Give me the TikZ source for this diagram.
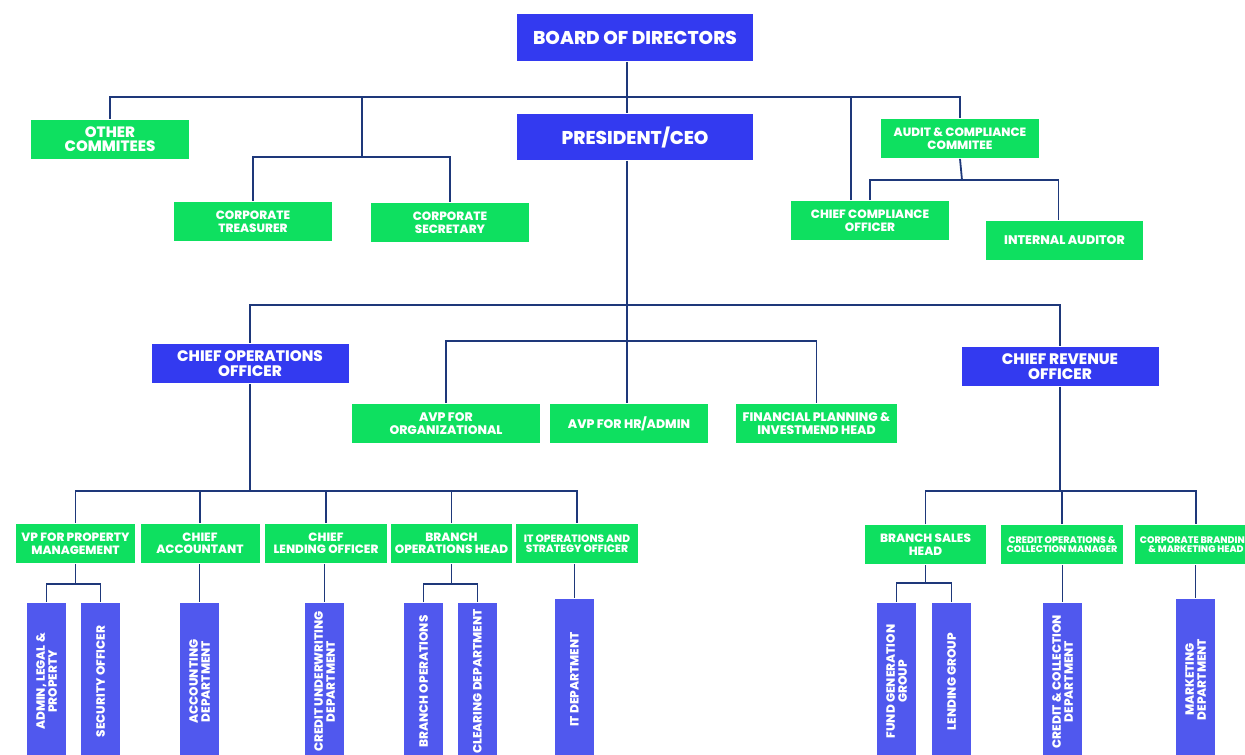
\documentclass[tikz,border=0pt]{standalone}
\usepackage{fontspec}
\setmainfont{Poppins}[BoldFont={Poppins ExtraBold}]
\usetikzlibrary{positioning}
\definecolor{chiefblue}{RGB}{51,58,240}
\definecolor{deptblue}{RGB}{80,88,238}
\definecolor{unitgreen}{RGB}{14,224,96}
\definecolor{linenavy}{RGB}{30,56,122}
\newcommand{\fsz}[2]{\fontsize{#1}{#2}\selectfont}
\tikzstyle{unit}=[fill=unitgreen,text=white,align=center,inner sep=0pt,minimum height=39,font=\bfseries\fsz{12}{12.5}]
\tikzstyle{chief}=[unit,fill=chiefblue]
\tikzstyle{dept}=[fill=deptblue,text=white,align=center,inner sep=0pt,rotate=90,minimum width=157,minimum height=39,font=\bfseries\fsz{12}{12}]
\newcommand{\newUnit}[4]{\node[#3](#1) at (#4){#2};}
\newcommand{\newLink}[2]{\draw (#1) -- (#2);}

\begin{document}
\begin{tikzpicture}[x=1pt,y=-1pt,
  line width=1.8pt,color=linenavy
  ]
  \useasboundingbox (0,0) rectangle (1245,755);
  % top of the chart
  \newUnit{board}{BOARD OF DIRECTORS}{chief,minimum width=236,minimum height=47,font=\bfseries\fsz{18.5}{19}}{635,37.5}
  \newUnit{pres}{PRESIDENT/CEO}{chief,minimum width=236,minimum height=46,font=\bfseries\fsz{18.5}{19}}{635,137}
  \newUnit{othc}{OTHER\\COMMITEES}{unit,minimum width=158,font=\bfseries\fsz{15}{14}}{110,139.5}
  \newUnit{ctreas}{CORPORATE\\TREASURER}{unit,minimum width=158}{253,221.5}
  \newUnit{csec}{CORPORATE\\SECRETARY}{unit,minimum width=158}{450,222.5}
  \newUnit{audit}{AUDIT \& COMPLIANCE\\COMMITEE}{unit,minimum width=158}{960,138.5}
  \newUnit{cco}{CHIEF COMPLIANCE\\OFFICER}{unit,minimum width=158}{870,220.5}
  \newUnit{iaud}{INTERNAL AUDITOR}{unit,minimum width=157,font=\bfseries\fsz{12.5}{13}}{1064.5,240.5}
  % officers
  \newUnit{coo}{CHIEF OPERATIONS\\OFFICER}{chief,minimum width=197,font=\bfseries\fsz{15.2}{15}}{250,363.5}
  \newUnit{cro}{CHIEF REVENUE\\OFFICER}{chief,minimum width=197,font=\bfseries\fsz{15.2}{15}}{1060,366.5}
  \newUnit{avporg}{AVP FOR\\ORGANIZATIONAL}{unit,minimum width=188,font=\bfseries\fsz{12.4}{12.5}}{446,423.5}
  \newUnit{avphr}{AVP FOR HR/ADMIN}{unit,minimum width=158,font=\bfseries\fsz{12.4}{12.5}}{629,423.5}
  \newUnit{fph}{FINANCIAL PLANNING \&\\INVESTMEND HEAD}{unit,minimum width=161,font=\bfseries\fsz{12.4}{12.5}}{816.5,423.5}
  % heads
  \newUnit{vpprop}{VP FOR PROPERTY\\MANAGEMENT}{unit,minimum width=119}{75.5,543.5}
  \newUnit{chacc}{CHIEF\\ACCOUNTANT}{unit,minimum width=119}{200,543.5}
  \newUnit{chlend}{CHIEF\\LENDING OFFICER}{unit,minimum width=122}{326,543.5}
  \newUnit{brops}{BRANCH\\OPERATIONS HEAD}{unit,minimum width=121}{451.5,543.5}
  \newUnit{itops}{IT OPERATIONS AND\\STRATEGY OFFICER}{unit,minimum width=122,font=\bfseries\fsz{10.6}{10.5}}{577,543.5}
  \newUnit{brsales}{BRANCH SALES\\HEAD}{unit,minimum width=121}{925.5,544.5}
  \newUnit{credops}{CREDIT OPERATIONS \&\\COLLECTION MANAGER}{unit,minimum width=122,font=\bfseries\fsz{9.5}{9.5}}{1062,544.5}
  \newUnit{corpbr}{CORPORATE BRANDING\\\& MARKETING HEAD}{unit,minimum width=122,font=\bfseries\fsz{9.5}{9.5}}{1196,544.5}
  % departments
  \newUnit{adm}{ADMIN, LEGAL \&\\PROPERTY}{dept}{46.5,681.5}
  \newUnit{sec}{SECURITY OFFICER}{dept}{100.5,681.5}
  \newUnit{accd}{ACCOUNTING\\DEPARTMENT}{dept}{199.5,681.5}
  \newUnit{cud}{CREDIT UNDERWRITING\\DEPARTMENT}{dept}{324.5,681.5}
  \newUnit{bro}{BRANCH OPERATIONS}{dept}{423.5,681.5}
  \newUnit{clr}{CLEARING DEPARTMENT}{dept}{477.5,681.5}
  \newUnit{itd}{IT DEPARTMENT}{dept,minimum width=161}{574.5,679.5}
  \newUnit{fgg}{FUND GENERATION\\GROUP}{dept}{896.5,681.5}
  \newUnit{lg}{LENDING GROUP}{dept}{951.5,681.5}
  \newUnit{ccd}{CREDIT \& COLLECTION\\DEPARTMENT}{dept}{1062.5,681.5}
  \newUnit{mkt}{MARKETING\\DEPARTMENT}{dept,minimum width=161}{1195.5,679.5}
  % bus points
  \coordinate (topbus) at (627,97);
  \coordinate (secbus) at (362,157);
  \coordinate (audbus) at (962,180);
  \coordinate (midbus) at (627,305);
  \coordinate (avpbus) at (627,341);
  \coordinate (coobus) at (250,491);
  \coordinate (crobus) at (1060,491);
  \coordinate (vpbus) at (75.5,584);
  \coordinate (bobus) at (451.5,584);
  \coordinate (bsbus) at (925.5,583);
  % links
  \newLink{board.south -| topbus}{pres.north -| topbus}
  \draw (othc.north) |- (topbus) -| (audit.north);
  \newLink{secbus |- topbus}{secbus}
  \draw (ctreas.north) |- (secbus) -| (csec.north);
  \draw ([xshift=-19]cco.north) |- (topbus);
  \newLink{audit.south}{audbus}
  \draw (cco.north) |- (audbus) -| ([xshift=-6]iaud.north);
  \newLink{pres.south -| midbus}{avphr.north -| midbus}
  \draw (coo.north) |- (midbus) -| (cro.north);
  \draw (avporg.north) |- (avpbus) -| (fph.north);
  \newLink{coo.south}{coobus}
  \draw (vpprop.north) |- (coobus) -| (itops.north);
  \foreach \n in {chacc,chlend,brops} \newLink{\n.north}{\n.north |- coobus}
  \newLink{cro.south}{crobus}
  \draw (brsales.north) |- (crobus) -| (corpbr.north);
  \newLink{credops.north}{credops.north |- crobus}
  \newLink{vpprop.south}{vpbus}
  \draw (adm.east) |- (vpbus) -| (sec.east);
  \newLink{brops.south}{bobus}
  \draw (bro.east) |- (bobus) -| (clr.east);
  \newLink{brsales.south}{bsbus}
  \draw (fgg.east) |- (bsbus) -| (lg.east);
  \newLink{chacc.south -| accd.east}{accd.east}
  \newLink{chlend.south -| cud.east}{cud.east}
  \newLink{itops.south -| itd.east}{itd.east}
  \newLink{credops.south -| ccd.east}{ccd.east}
  \newLink{corpbr.south -| mkt.east}{mkt.east}
\end{tikzpicture}
\end{document}
